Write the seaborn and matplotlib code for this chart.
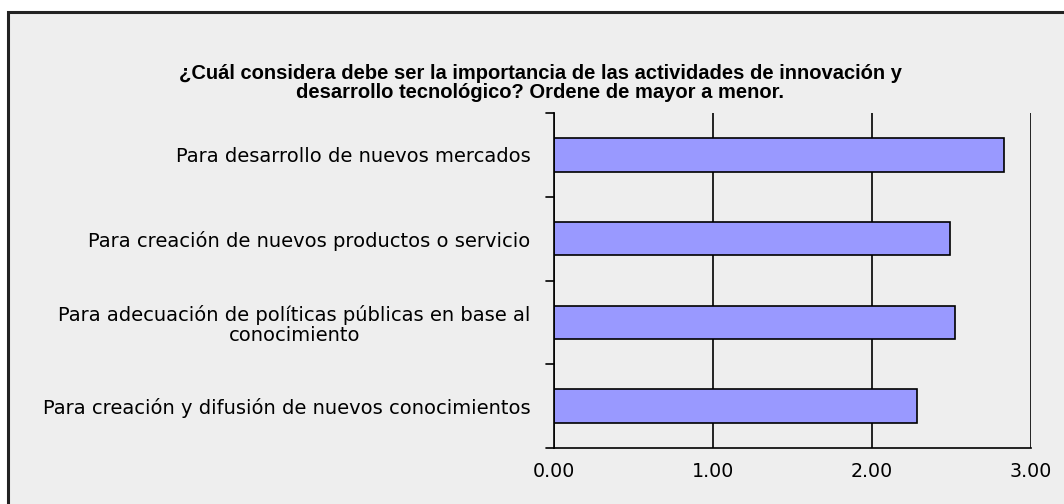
import pandas as pd
import seaborn as sns
import matplotlib.pyplot as plt
from matplotlib.patches import Rectangle

# Data
categories = [
    'Para desarrollo de nuevos mercados',
    'Para creación de nuevos productos o servicio',
    'Para adecuación de políticas públicas en base al\nconocimiento',
    'Para creación y difusión de nuevos conocimientos',
]
scores = [2.83, 2.49, 2.52, 2.28]
x_ticks = [0, 1, 2, 3]
x_labels = ['0.00', '1.00', '2.00', '3.00']

df = pd.DataFrame({'categoria': categories, 'puntaje': scores})

sns.set_style('white')
plt.rcParams['font.family'] = ['DejaVu Sans']

fig = plt.figure(figsize=(10.64, 5.04), dpi=100, facecolor='white')

# grey panel with dark border on left/top (runs off the image right/bottom)
fig.patches.append(Rectangle((8 / 1064, -0.05), 1.1, 1 - 12 / 504 + 0.05,
                             transform=fig.transFigure, facecolor='#EEEEEE',
                             edgecolor='#222222', linewidth=2.2, zorder=-1))

ax = fig.add_axes([554 / 1064, 1 - 448 / 504, (1031 - 554) / 1064, (448 - 113) / 504])
ax.set_facecolor('#EEEEEE')

sns.barplot(data=df, x='puntaje', y='categoria', orient='h', color='#9999FF',
            edgecolor='black', linewidth=1.2, width=0.4, saturation=1, ax=ax)

ax.set_xlim(0, 3)
ax.set_ylim(3.5, -0.5)
ax.set_xticks(x_ticks)
ax.set_xticklabels(x_labels, fontsize=13.7, color='black')
ax.xaxis.grid(True, color='black', linewidth=1.2)
ax.set_axisbelow(True)

# category labels, tick marks at the boundaries between categories
ax.set_yticks(range(len(categories)))
ax.set_yticklabels(categories, fontsize=14, color='black',
                   multialignment='center', linespacing=1.05)
ax.tick_params(axis='y', length=0, pad=17)
for b in [-0.5, 0.5, 1.5, 2.5, 3.5]:
    ax.plot([-0.017, 0], [b, b], color='black', linewidth=1.2,
            transform=ax.get_yaxis_transform(), clip_on=False)
ax.tick_params(axis='x', length=3, width=1.2, color='black', pad=7)

ax.set_xlabel('')
ax.set_ylabel('')
for side in ['top', 'right']:
    ax.spines[side].set_visible(False)
for side in ['left', 'bottom']:
    ax.spines[side].set_color('black')
    ax.spines[side].set_linewidth(1.2)

fig.text(540 / 1064, 1 - 83 / 504,
         '¿Cuál considera debe ser la importancia de las actividades de innovación y\n'
         'desarrollo tecnológico? Ordene de mayor a menor.',
         ha='center', va='center', fontsize=14.5, fontweight='bold', color='black',
         family=['Liberation Sans', 'DejaVu Sans'], linespacing=1.0)

fig.savefig('out.png', dpi=100, facecolor='white')
